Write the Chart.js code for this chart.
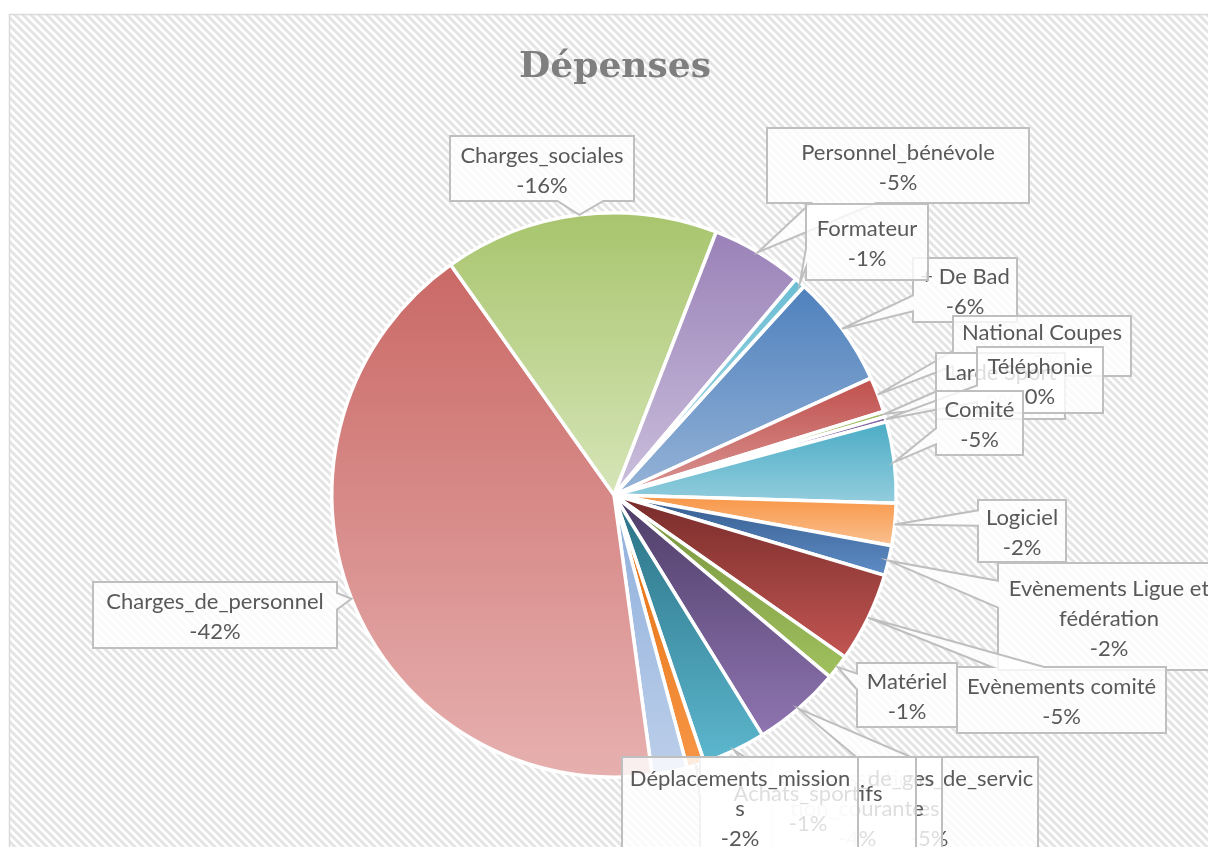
<!DOCTYPE html>
<html>
<head>
<meta charset="utf-8">
<title>Dépenses</title>
<script src="https://cdn.jsdelivr.net/npm/chart.js@4.4.1/dist/chart.umd.min.js"></script>
<style>
  html, body { margin: 0; padding: 0; background: #fff; }
  #wrap { width: 1208px; height: 847px; }
</style>
</head>
<body>
<div id="wrap"><canvas id="depensesChart" width="1208" height="847"></canvas></div>
<script>
// Data, in the order of the original worksheet (first slice starts at 42.3°)
const categories = [
    '+ De Bad', 'National Coupes', 'Lardé Sport', 'Téléphonie', 'Comité', 'Logiciel',
    'Evènements Ligue et fédération', 'Evènements comité', 'Matériel',
    'Prestations_de_services', 'Charges_de_gestion_courante', 'Achats_sportifs',
    'Déplacements_missions', 'Charges_de_personnel', 'Charges_sociales',
    'Personnel_bénévole', 'Formateur'
];
const amounts = [
    -6.4, -2.0, -0.3, -0.3, -4.6, -2.4,
    -1.7, -5.1, -1.4,
    -5.0, -3.6, -1.0,
    -2.0, -42.0, -15.6,
    -5.2, -0.6
];

const FIRST_SLICE_ANGLE = 42.3;

// gradient colours, top of slice -> bottom of slice
const sliceTopColors = [
    '#4f81bd', '#c0504d', '#9bbb59', '#8064a2', '#4bacc6', '#f79646',
    '#345d8f', '#772c2a', '#76923c', '#4d3c66', '#2a7083', '#e46c0a',
    '#8eaedb', '#ca6966', '#a8c56d', '#9a82b8', '#6bbdd3'
];
const sliceBottomColors = [
    '#95b3d7', '#da9694', '#c3d69b', '#b3a2c7', '#93cddd', '#fac090',
    '#5f8cc6', '#c25552', '#a0c05e', '#8f75b1', '#5cb7ce', '#f79646',
    '#bccfea', '#e6b0af', '#d6e5b8', '#cbbfdc', '#a9dbe8'
];

// label boxes as they were dragged in the original: [left, top, width, height]
const labelBoxes = [
    [913, 258, 104, 64], [953, 316, 178, 60], [936, 353, 129, 66], [977, 347, 126, 66],
    [936, 391, 87, 64], [978, 500, 88, 62], [998, 563, 222, 107], [957, 667, 209, 66],
    [857, 663, 100, 64], [820, 757, 218, 100], [772, 757, 170, 100], [700, 757, 216, 100],
    [622, 757, 236, 100], [93, 582, 244, 66], [450, 136, 184, 65], [767, 128, 262, 75],
    [806, 204, 122, 76]
];

const LABEL_FONT = '22px Lato';
const LINE_HEIGHT = 30;
const TEXT_INSET = 8;

function totalAmount() {
    return amounts.reduce((s, v) => s + Math.abs(v), 0);
}

function cosd(a) { return Math.cos(a * Math.PI / 180); }

// vertical gradient over each slice's own bounding box, like the original
function sliceFill(context) {
    const i = context.dataIndex;
    const chart = context.chart;
    const area = chart.chartArea;
    if (i === undefined) return sliceTopColors[0];
    const controller = chart.getDatasetMeta(0).controller;
    if (!area || !controller || !controller.outerRadius) return sliceTopColors[i];
    const r = controller.outerRadius;
    const cy = (area.top + area.bottom) / 2;
    const total = totalAmount();
    let a0 = FIRST_SLICE_ANGLE;
    for (let k = 0; k < i; k++) a0 += Math.abs(amounts[k]) / total * 360;
    const a1 = a0 + Math.abs(amounts[i]) / total * 360;
    const ys = [cy, cy - r * cosd(a0), cy - r * cosd(a1)];
    for (let k = Math.ceil(a0 / 180); k * 180 <= a1; k++) {
        ys.push(k % 2 === 0 ? cy - r : cy + r);
    }
    const g = chart.ctx.createLinearGradient(0, Math.min(...ys), 0, Math.max(...ys));
    g.addColorStop(0, sliceTopColors[i]);
    g.addColorStop(1, sliceBottomColors[i]);
    return g;
}

function makeHatch(ctx) {
    const tile = document.createElement('canvas');
    tile.width = 8;
    tile.height = 8;
    const t = tile.getContext('2d');
    t.fillStyle = '#ffffff';
    t.fillRect(0, 0, 8, 8);
    t.strokeStyle = '#e4e4e4';
    t.lineWidth = 3;
    t.beginPath();
    t.moveTo(-2, -2); t.lineTo(10, 10);
    t.moveTo(6, -2); t.lineTo(10, 2);
    t.moveTo(-2, 6); t.lineTo(2, 10);
    t.stroke();
    return ctx.createPattern(tile, 'repeat');
}

// rectangle callout with a wedge pointing at the slice (wedgeRectCallout shape)
function calloutPath(ctx, l, t, w, h, tx, ty) {
    const dx = tx - (l + w / 2), dy = ty - (t + h / 2);
    const inside = tx > l && tx < l + w && ty > t && ty < t + h;
    const vertical = Math.abs(dy) > Math.abs(dx * h / w);
    const x1 = l + w * (dx > 0 ? 7 : 2) / 12, x2 = l + w * (dx > 0 ? 10 : 5) / 12;
    const y1 = t + h * (dy > 0 ? 7 : 2) / 12, y2 = t + h * (dy > 0 ? 10 : 5) / 12;
    ctx.beginPath();
    ctx.moveTo(l, t);
    if (!inside && vertical && dy < 0) { ctx.lineTo(x1, t); ctx.lineTo(tx, ty); ctx.lineTo(x2, t); }
    ctx.lineTo(l + w, t);
    if (!inside && !vertical && dx > 0) { ctx.lineTo(l + w, y1); ctx.lineTo(tx, ty); ctx.lineTo(l + w, y2); }
    ctx.lineTo(l + w, t + h);
    if (!inside && vertical && dy > 0) { ctx.lineTo(x2, t + h); ctx.lineTo(tx, ty); ctx.lineTo(x1, t + h); }
    ctx.lineTo(l, t + h);
    if (!inside && !vertical && dx < 0) { ctx.lineTo(l, y2); ctx.lineTo(tx, ty); ctx.lineTo(l, y1); }
    ctx.closePath();
}

function wrapText(ctx, text, maxWidth) {
    const lines = [];
    let line = '';
    text.split(' ').forEach(word => {
        const candidate = line ? line + ' ' + word : word;
        if (ctx.measureText(candidate).width <= maxWidth) {
            line = candidate;
            return;
        }
        if (line) lines.push(line);
        line = '';
        // break long words character by character
        for (const ch of word) {
            if (line && ctx.measureText(line + ch).width > maxWidth) {
                lines.push(line);
                line = ch;
            } else {
                line += ch;
            }
        }
    });
    if (line) lines.push(line);
    return lines;
}

const frameBackground = {
    id: 'frameBackground',
    beforeDraw(chart) {
        const ctx = chart.ctx;
        ctx.save();
        ctx.fillStyle = '#ffffff';
        ctx.fillRect(0, 0, chart.width, chart.height);
        ctx.fillStyle = makeHatch(ctx);
        ctx.fillRect(10, 15, chart.width, chart.height);
        ctx.strokeStyle = '#d9d9d9';
        ctx.lineWidth = 1.5;
        ctx.strokeRect(9.5, 14.5, chart.width + 20, chart.height + 20);
        ctx.restore();
    }
};

const calloutLabels = {
    id: 'calloutLabels',
    afterDatasetsDraw(chart) {
        const ctx = chart.ctx;
        const meta = chart.getDatasetMeta(0);
        const total = totalAmount();
        ctx.save();
        ctx.font = LABEL_FONT;
        ctx.textAlign = 'center';
        ctx.textBaseline = 'middle';
        ctx.lineJoin = 'miter';
        meta.data.forEach((arc, i) => {
            const p = arc.getProps(['x', 'y', 'startAngle', 'endAngle', 'outerRadius'], true);
            const mid = (p.startAngle + p.endAngle) / 2;
            const tx = p.x + Math.cos(mid) * p.outerRadius;
            const ty = p.y + Math.sin(mid) * p.outerRadius;
            const [l, t, w, h] = labelBoxes[i];
            calloutPath(ctx, l, t, w, h, tx, ty);
            ctx.fillStyle = 'rgba(255,255,255,0.8)';
            ctx.fill();
            ctx.strokeStyle = '#bfbfbf';
            ctx.lineWidth = 2;
            ctx.stroke();
            const pct = Math.round(amounts[i] / total * 100);
            const lines = wrapText(ctx, categories[i], w - TEXT_INSET).concat([pct + '%']);
            const firstY = t + h / 2 - (lines.length - 1) * LINE_HEIGHT / 2 + 2;
            ctx.fillStyle = '#595959';
            lines.forEach((s, k) => ctx.fillText(s, l + w / 2, firstY + k * LINE_HEIGHT));
        });
        ctx.restore();
    }
};

const chartTitle = {
    id: 'chartTitle',
    afterDraw(chart) {
        const ctx = chart.ctx;
        ctx.save();
        ctx.font = 'bold 36px "DejaVu Serif"';
        ctx.fillStyle = '#7f7f7f';
        ctx.textAlign = 'center';
        ctx.textBaseline = 'alphabetic';
        ctx.fillText('Dépenses', 615, 77);
        ctx.restore();
    }
};

new Chart(document.getElementById('depensesChart'), {
    type: 'pie',
    data: {
        labels: categories,
        datasets: [{
            data: amounts,
            backgroundColor: sliceFill,
            borderColor: '#ffffff',
            borderWidth: 3.5
        }]
    },
    options: {
        responsive: false,
        animation: false,
        rotation: FIRST_SLICE_ANGLE,
        layout: {
            padding: { left: 330, top: 211, right: 310, bottom: 68 }
        },
        plugins: {
            legend: { display: false },
            tooltip: { enabled: false },
            title: { display: false }
        }
    },
    plugins: [frameBackground, calloutLabels, chartTitle]
});
</script>
</body>
</html>
